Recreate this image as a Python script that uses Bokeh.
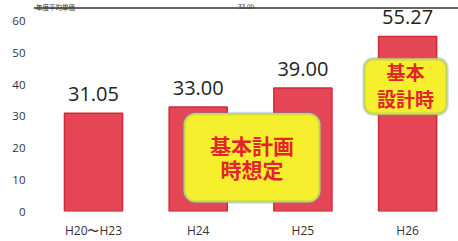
from bokeh.plotting import figure
from bokeh.models import Range1d, FixedTicker, BoxAnnotation, Span, ColumnDataSource, Label
from bokeh.core.properties import value
from bokeh.embed import file_html
from bokeh.resources import INLINE

# data
categories = ["H20〜H23", "H24", "H25", "H26"]
prices = [31.05, 33.00, 39.00, 55.27]
price_labels = ["31.05", "33.00", "39.00", "55.27"]
y_ticks = [0, 10, 20, 30, 40, 50, 60]

# callout texts
callout1 = ["基本計画", "時想定"]
callout2 = ["基本", "設計時"]

# table row at the top of the scan
header_texts = ["年度平均単価", "33.00"]

xs = list(range(len(categories)))

p = figure(width=458, height=241, output_backend="svg", toolbar_location=None,
           x_range=Range1d(-0.573, 3.486), y_range=Range1d(0, 66.6),
           min_border_left=33, min_border_right=0, min_border_top=0, min_border_bottom=29)
p.background_fill_color = "white"
p.border_fill_color = "white"
p.outline_line_color = None
p.grid.visible = False

src = ColumnDataSource(dict(x=xs, top=prices, label=price_labels))
p.vbar(x="x", top="top", width=0.555, source=src, fill_color="#e44656",
       line_color="#cf2a3b", line_width=1.5)

p.text(x="x", y="top", text="label", source=src, text_align="center",
       text_baseline="alphabetic", y_offset=-19, text_font=value("Open Sans"),
       text_font_size="20px", text_color="#222222")

# top table line and its texts
p.add_layout(Span(location=64.25, dimension="width", line_color="#333333", line_width=1.5))
for hx, ht in zip([-0.55, 1.38], header_texts):
    p.add_layout(Label(x=hx, y=64.6, text=ht, text_align="left", text_baseline="alphabetic",
                       text_font="Noto Sans CJK JP", text_font_size="6.5px",
                       text_color="#333333"))

# callout boxes
b1 = BoxAnnotation(left=0.86, right=2.168, top=31.1, bottom=2.83, fill_color="#f5ef2e",
                   fill_alpha=1.0, line_color="#5a93c6", line_width=2.5, border_radius=12)
b1i = BoxAnnotation(left=0.875, right=2.153, top=30.5, bottom=3.4, fill_alpha=0.0,
                    line_color="#8cc86a", line_width=1.5, border_radius=10)
b2 = BoxAnnotation(left=2.579, right=3.381, top=48.4, bottom=30.5, fill_color="#f5ef2e",
                   fill_alpha=1.0, line_color="#5a93c6", line_width=2.5, border_radius=10)
b2i = BoxAnnotation(left=2.594, right=3.366, top=47.8, bottom=31.1, fill_alpha=0.0,
                    line_color="#8cc86a", line_width=1.5, border_radius=8)
for b in (b1, b1i, b2, b2i):
    p.add_layout(b)

t1 = p.text(x=[1.514, 1.514], y=[21.05, 13.35], text=callout1, text_align="center",
            text_baseline="middle", text_font=value("Noto Sans CJK JP"), text_font_style="bold",
            text_font_size="21px", text_color="#e3242b")
t2 = p.text(x=[2.98, 2.98], y=[44.3, 35.8], text=callout2, text_align="center",
            text_baseline="middle", text_font=value("Noto Sans CJK JP"), text_font_style="bold",
            text_font_size="19px", text_color="#e3242b")
t1.level = "overlay"
t2.level = "overlay"

p.xaxis.ticker = FixedTicker(ticks=xs)
p.xaxis.major_label_overrides = {i: c for i, c in zip(xs, categories)}
p.yaxis.ticker = FixedTicker(ticks=y_ticks)
for ax in (p.xaxis, p.yaxis):
    ax.axis_line_color = None
    ax.major_tick_line_color = None
    ax.minor_tick_line_color = None
    ax.major_tick_out = 0
    ax.major_tick_in = 0
    ax.major_label_text_font = "Open Sans"
    ax.major_label_text_color = "#333333"
p.xaxis.major_label_text_font_size = "12px"
p.xaxis.major_label_standoff = 10
p.yaxis.major_label_text_font_size = "11.5px"
p.yaxis.major_label_standoff = 8

open("out.html", "w").write(file_html(p, INLINE))
